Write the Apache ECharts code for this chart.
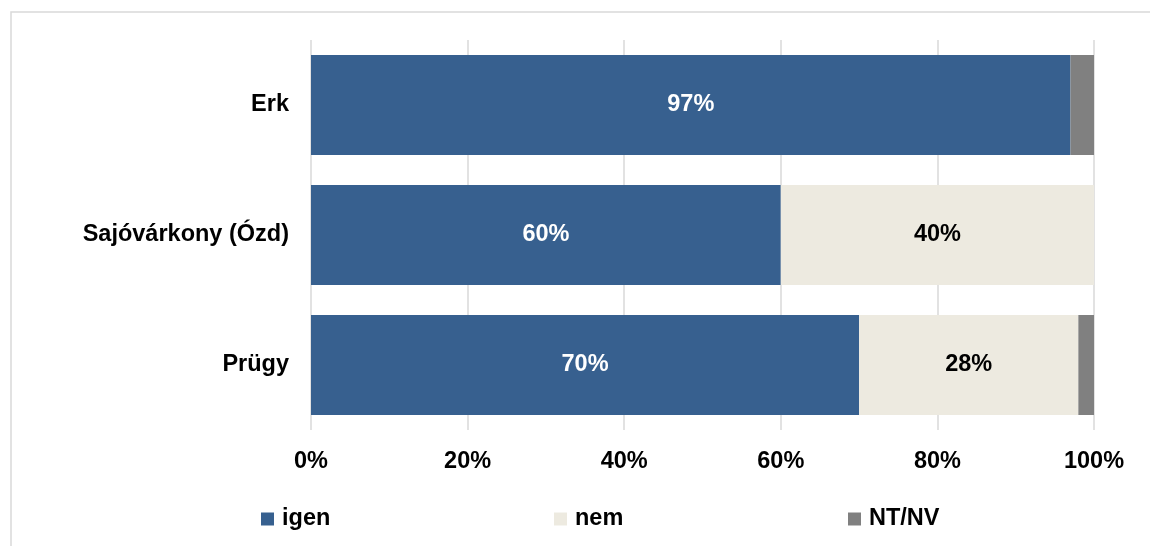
<!DOCTYPE html>
<html><head><meta charset="utf-8">
<script src="https://cdn.jsdelivr.net/npm/echarts@6/dist/echarts.min.js"></script>
<style>html,body{margin:0;padding:0;background:#fff}#c{width:1150px;height:546px}</style>
</head><body><div id="c"></div>
<script>
const categories = ['Erk', 'Sajóvárkony (Ózd)', 'Prügy'];
const igen = [97, 60, 70];
const nem = [0, 40, 28];
const ntnv = [3, 0, 2];
const xTicks = [0, 20, 40, 60, 80, 100];

const font = '"Liberation Sans", Arial, sans-serif';
const chart = echarts.init(document.getElementById('c'));
function lbl(color) {
  return {
    show: true, position: 'inside', color: color, fontFamily: font, fontSize: 23.5, fontWeight: 'bold',
    padding: [3, 0, 0, 0],
    formatter: p => p.value >= 5 ? p.value + '%' : ''
  };
}
function legend(name, left) {
  return {
    left: left, top: 502, itemWidth: 13, itemHeight: 13, icon: 'rect', data: [name],
    textStyle: { fontFamily: font, fontSize: 23.5, fontWeight: 'bold', color: '#000', padding: [0, 0, 0, 3] }
  };
}
chart.setOption({
  animation: false,
  graphic: [{ type: 'rect', shape: { x: 11, y: 12, width: 1200, height: 600 }, style: { fill: 'none', stroke: '#d9d9d9', lineWidth: 1.5 }, silent: true }],
  grid: { left: 311, right: 56, top: 40, bottom: 116 },
  legend: [legend('igen', 256), legend('nem', 549), legend('NT/NV', 843)],
  xAxis: {
    type: 'value', min: 0, max: 100, interval: 20,
    axisLine: { show: false }, axisTick: { show: false },
    splitLine: { lineStyle: { color: '#d9d9d9', width: 1.5 } },
    axisLabel: { formatter: v => xTicks.includes(v) ? v + '%' : '', color: '#000', fontFamily: font, fontSize: 23.5, fontWeight: 'bold', margin: 20 }
  },
  yAxis: {
    type: 'category', data: categories, inverse: true,
    axisLine: { show: false }, axisTick: { show: false },
    axisLabel: { color: '#000', fontFamily: font, fontSize: 23.5, fontWeight: 'bold', margin: 22, padding: [3, 0, 0, 0] }
  },
  series: [
    { name: 'igen', type: 'bar', stack: 's', data: igen, barCategoryGap: '23%', itemStyle: { color: '#37608f' }, label: lbl('#fff') },
    { name: 'nem', type: 'bar', stack: 's', data: nem, itemStyle: { color: '#edeae0' }, label: lbl('#000') },
    { name: 'NT/NV', type: 'bar', stack: 's', data: ntnv, itemStyle: { color: '#808080' }, label: lbl('#000') }
  ]
});
</script></body></html>
